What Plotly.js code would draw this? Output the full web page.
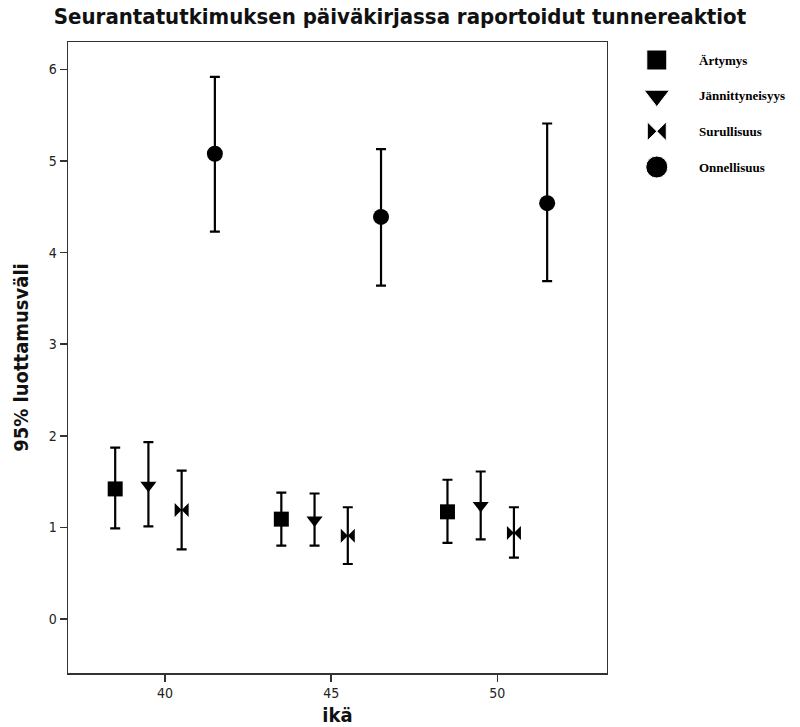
<!DOCTYPE html>
<html><head><meta charset="utf-8">
<script src="https://cdn.plot.ly/plotly-3.0.1.min.js"></script>
<style>html,body{margin:0;padding:0;background:#fff}</style>
</head><body><div id="chart" style="width:800px;height:727px"></div>
<script>
const ages = [40, 45, 50];
const seriesNames = ["Ärtymys", "Jännittyneisyys", "Surullisuus", "Onnellisuus"];
const offsets = [-1.5, -0.5, 0.5, 1.5];
const artymysMean = [1.42, 1.09, 1.17];
const artymysLow = [0.99, 0.80, 0.83];
const artymysHigh = [1.87, 1.38, 1.52];
const jannitysMean = [1.46, 1.08, 1.24];
const jannitysLow = [1.01, 0.80, 0.87];
const jannitysHigh = [1.93, 1.37, 1.61];
const surullisuusMean = [1.19, 0.91, 0.94];
const surullisuusLow = [0.76, 0.60, 0.67];
const surullisuusHigh = [1.62, 1.22, 1.22];
const onnellisuusMean = [5.08, 4.39, 4.54];
const onnellisuusLow = [4.23, 3.64, 3.69];
const onnellisuusHigh = [5.92, 5.13, 5.41];
const yTicks = [0, 1, 2, 3, 4, 5, 6];
const xTicks = [40, 45, 50];

const means = [artymysMean, jannitysMean, surullisuusMean, onnellisuusMean];
const lows = [artymysLow, jannitysLow, surullisuusLow, onnellisuusLow];
const highs = [artymysHigh, jannitysHigh, surullisuusHigh, onnellisuusHigh];
const symbols = ["square", "triangle-down", "bowtie", "circle"];
const sizes = [15, 14, 14, 16];
const legendSizes = [20, 22, 19, 22];

const traces = seriesNames.map((name, i) => ({
  type: "scatter", mode: "markers", name: name, showlegend: false,
  x: ages.map(a => a + offsets[i]),
  y: means[i],
  marker: {symbol: symbols[i], size: sizes[i], color: "#000", opacity: 1},
  error_y: {type: "data", symmetric: false,
    array: highs[i].map((h, k) => h - means[i][k]),
    arrayminus: lows[i].map((l, k) => means[i][k] - l),
    color: "#000", thickness: 2.2, width: 5}
}));

// legend drawn on its own small axis
traces.push({
  type: "scatter", mode: "markers", xaxis: "x2", yaxis: "y2", showlegend: false,
  x: seriesNames.map(() => 0.113), y: seriesNames.map((_, i) => i),
  marker: {symbol: symbols, size: legendSizes, color: "#000", opacity: 1}
});
const legendAnn = seriesNames.map((n, i) => ({
  xref: "x2", yref: "y2", x: 0.38, y: i, xanchor: "left", yanchor: "middle",
  text: n, showarrow: false,
  font: {family: "'Liberation Serif','Times New Roman',serif", size: 13, color: "#000", weight: "bold"}
}));

const sansFam = "'DejaVu Sans Condensed','Liberation Sans Narrow','Arial Narrow','Liberation Sans',Arial,sans-serif";
const axisFont = {family: sansFam, size: 14, color: "#222"};
const layout = {
  width: 800, height: 727,
  margin: {l: 68, r: 10, t: 42, b: 54},
  paper_bgcolor: "#fff", plot_bgcolor: "#fff",
  showlegend: false,
  title: {text: "Seurantatutkimuksen päiväkirjassa raportoidut tunnereaktiot",
    font: {family: sansFam, size: 22, color: "#111", weight: "bold"},
    x: 0.5, xanchor: "center", y: 0.988, yanchor: "top"},
  xaxis: {domain: [0, 0.7465], range: [37.08, 53.3], tickvals: xTicks, ticktext: xTicks.map(String),
    showgrid: false, zeroline: false, showline: true, mirror: true, linecolor: "#333", linewidth: 1.5,
    ticks: "outside", ticklen: 7, tickwidth: 1.5, tickcolor: "#333", tickfont: axisFont,
    title: {text: "ikä", font: {family: sansFam, size: 20, color: "#111", weight: "bold"}, standoff: 18}},
  yaxis: {range: [-0.59, 6.3], tickvals: yTicks, ticktext: yTicks.map(String),
    showgrid: false, zeroline: false, showline: true, mirror: true, linecolor: "#333", linewidth: 1.5,
    ticks: "outside", ticklen: 7, tickwidth: 1.5, tickcolor: "#333", tickfont: axisFont,
    title: {text: "95% luottamusväli", font: {family: sansFam, size: 20, color: "#111", weight: "bold"}, standoff: 14}},
  xaxis2: {domain: [0.792, 1.0], range: [0, 1], visible: false, fixedrange: true},
  yaxis2: {domain: [0.7813, 1.0], range: [3.364, -0.505], visible: false, fixedrange: true},
  annotations: legendAnn
};
Plotly.newPlot("chart", traces, layout, {displayModeBar: false, staticPlot: true});
</script></body></html>
